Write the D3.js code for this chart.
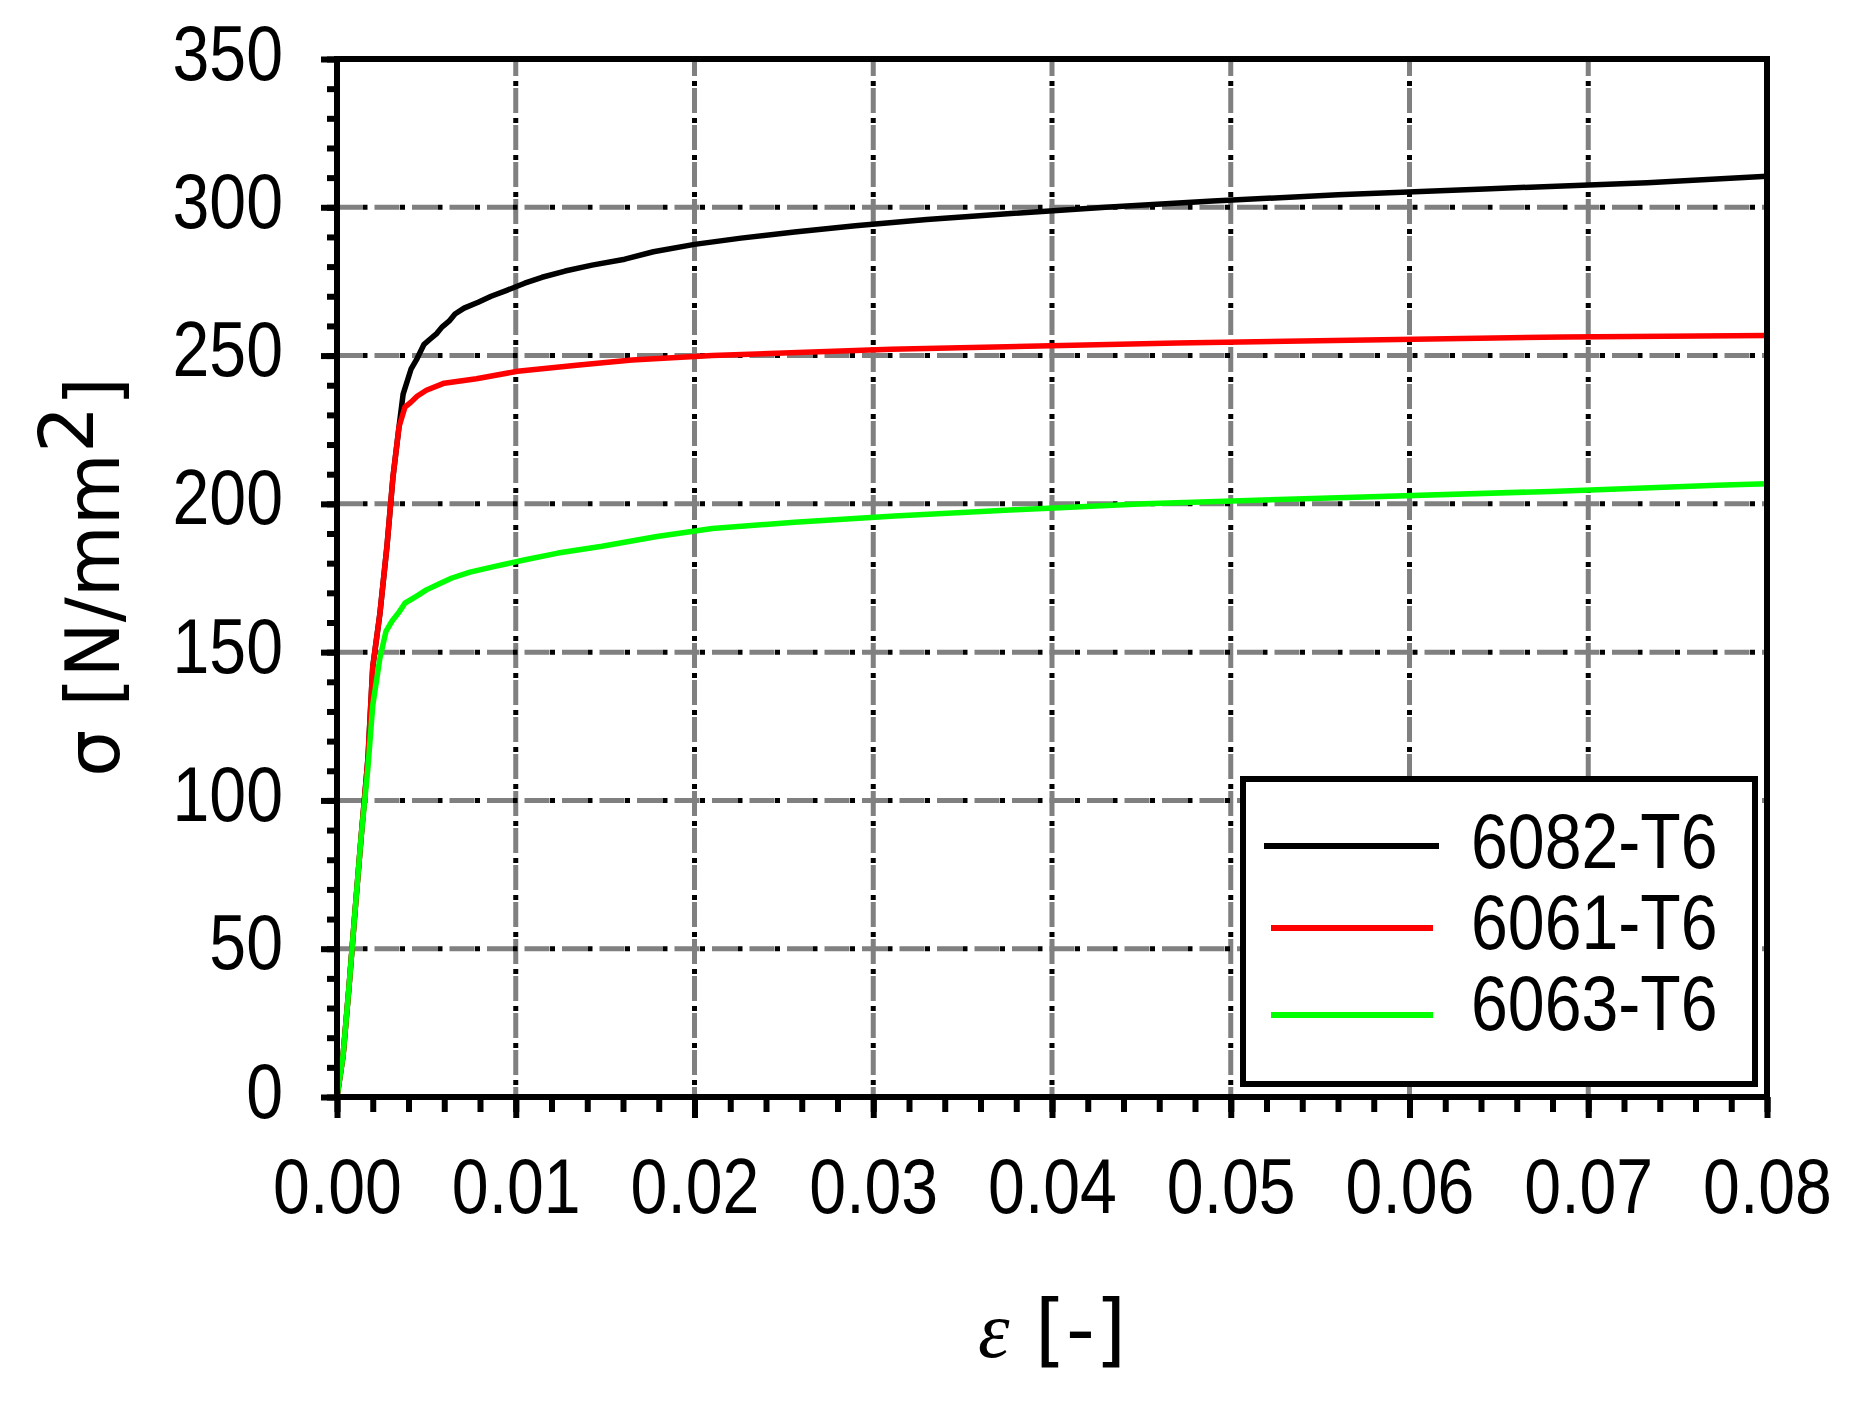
<!DOCTYPE html>
<meta charset="utf-8">
<script src="https://d3js.org/d3.v7.min.js"></script>
<style>
  body { margin: 0; background: #fff; }
  .tick text { font-family: "Liberation Sans", Arial, sans-serif; font-size: 77px; fill: #000; }
</style>
<div id="chart"></div>
<script>

// tick values
var xTicks = [0, 0.01, 0.02, 0.03, 0.04, 0.05, 0.06, 0.07, 0.08];
var yTicks = [0, 50, 100, 150, 200, 250, 300, 350];

// legend names
var alloys = ["6082-T6", "6061-T6", "6063-T6"];
var colors = ["#000000", "#ff0000", "#00ff00"];

// 6082-T6 (black)
var strain6082 = [0, 0.00034, 0.00067, 0.001, 0.00134, 0.00173, 0.002, 0.0024, 0.0028, 0.00313, 0.00347, 0.0037,
  0.00414, 0.00448, 0.00487, 0.0052, 0.00559, 0.00587, 0.00627, 0.0066, 0.00711, 0.0079, 0.00862, 0.0095,
  0.0105, 0.01147, 0.01276, 0.01427, 0.0161, 0.0177, 0.02, 0.0226, 0.0256, 0.029, 0.033, 0.0377, 0.043,
  0.049, 0.056, 0.0642, 0.0733, 0.08];
var stress6082 = [0, 14, 37, 62, 87, 114, 145, 163, 186, 209, 226, 237,
  245.4, 249, 253.8, 255.5, 257.5, 259.6, 261.6, 264, 266, 268, 270, 272,
  274.4, 276.4, 278.5, 280.5, 282.5, 285, 287.5, 289.6, 291.7, 293.8, 295.9, 297.9, 300,
  302.1, 304.2, 306.2, 308.3, 310.5];

// 6061-T6 (red)
var strain6061 = [0, 0.00034, 0.00067, 0.001, 0.00134, 0.00173, 0.002, 0.0024, 0.0028, 0.00313, 0.00347, 0.0038,
  0.00414, 0.00448, 0.005, 0.006, 0.0078, 0.0101, 0.0134, 0.0165, 0.021, 0.031, 0.047, 0.0686, 0.08];
var stress6061 = [0, 14, 37, 62, 87, 114, 145, 163, 186, 209, 226, 232.6,
  234.3, 236.3, 238.3, 240.7, 242.2, 244.7, 246.7, 248.5, 250, 252.1, 254.2, 256.3, 256.8];

// 6063-T6 (green)
var strain6063 = [0, 0.00034, 0.00067, 0.001, 0.00134, 0.00173, 0.002, 0.0024, 0.00274, 0.00308, 0.00347, 0.0038,
  0.00448, 0.005, 0.0057, 0.00643, 0.00744, 0.0089, 0.0104, 0.01236, 0.01483, 0.0179, 0.021, 0.0256,
  0.0312, 0.0379, 0.0452, 0.056, 0.0679, 0.0772, 0.08];
var stress6063 = [0, 14, 37, 62, 87, 111, 132, 148, 157, 160.5, 163.5, 166.5,
  169, 171, 173, 175, 177, 179, 181, 183.4, 185.7, 189, 191.7, 193.8,
  195.9, 198, 200, 202.1, 204.2, 206.3, 206.8];

var W = 1864, H = 1407;
var margin = {top: 59, right: 97, bottom: 310, left: 337};
var plotW = W - margin.left - margin.right,
    plotH = H - margin.top - margin.bottom;

// the labels in the picture use a narrow face, so squeeze Liberation Sans
var squeeze = 0.86;

var svg = d3.select("#chart")
  .append("svg")
    .attr("width", W)
    .attr("height", H);

var g = svg.append("g")
  .attr("transform", "translate(" + margin.left + "," + margin.top + ")");

var x = d3.scaleLinear().domain([0, 0.08]).range([0, plotW]);
var y = d3.scaleLinear().domain([0, 350]).range([plotH, 0]);

// grid: gray dashes with a black dot after each dash
var grid = g.append("g");
xTicks.slice(1, -1).forEach(function(t) {
  grid.append("line")
    .attr("x1", x(t)).attr("x2", x(t)).attr("y1", 0).attr("y2", plotH)
    .attr("stroke", "#808080").attr("stroke-width", 5)
    .attr("stroke-dasharray", "25 12").attr("stroke-dashoffset", 8);
  grid.append("line")
    .attr("x1", x(t)).attr("x2", x(t)).attr("y1", 0).attr("y2", plotH)
    .attr("stroke", "#000").attr("stroke-width", 5)
    .attr("stroke-dasharray", "5 32").attr("stroke-dashoffset", 15);
});
yTicks.slice(1, -1).forEach(function(t) {
  grid.append("line")
    .attr("x1", 0).attr("x2", plotW).attr("y1", y(t)).attr("y2", y(t))
    .attr("stroke", "#808080").attr("stroke-width", 5)
    .attr("stroke-dasharray", "25 12.5");
  grid.append("line")
    .attr("x1", 0).attr("x2", plotW).attr("y1", y(t)).attr("y2", y(t))
    .attr("stroke", "#000").attr("stroke-width", 5)
    .attr("stroke-dasharray", "5 32.5").attr("stroke-dashoffset", 12);
});

// curves
var series = [
  {name: alloys[0], color: colors[0], e: strain6082, s: stress6082},
  {name: alloys[1], color: colors[1], e: strain6061, s: stress6061},
  {name: alloys[2], color: colors[2], e: strain6063, s: stress6063}
];

var line = d3.line()
  .x(function(d) { return x(d[0]); })
  .y(function(d) { return y(d[1]); });

series.forEach(function(sr) {
  g.append("path")
    .datum(d3.zip(sr.e, sr.s))
    .attr("fill", "none")
    .attr("stroke", sr.color)
    .attr("stroke-width", 5.5)
    .attr("stroke-linejoin", "round")
    .attr("d", line);
});

// minor ticks
g.append("g")
  .attr("transform", "translate(0," + plotH + ")")
  .call(d3.axisBottom(x).tickValues(d3.range(0, 41).map(function(i) { return i * 0.002; }))
    .tickSize(15).tickSizeOuter(0).tickFormat(""))
  .call(function(a) { a.select(".domain").remove(); a.selectAll("line").attr("stroke-width", 6); });
g.append("g")
  .call(d3.axisLeft(y).tickValues(d3.range(0, 36).map(function(i) { return i * 10; }))
    .tickSize(10).tickSizeOuter(0).tickFormat(""))
  .call(function(a) { a.select(".domain").remove(); a.selectAll("line").attr("stroke-width", 6); });

// major ticks + labels
g.append("g")
  .attr("transform", "translate(0," + plotH + ")")
  .call(d3.axisBottom(x).tickValues(xTicks).tickSize(21).tickSizeOuter(0).tickPadding(40)
    .tickFormat(d3.format(".2f")))
  .call(function(a) {
    a.select(".domain").remove();
    a.selectAll("line").attr("stroke-width", 6);
    a.selectAll("text").attr("transform", "scale(" + squeeze + ",1)");
  });
g.append("g")
  .call(d3.axisLeft(y).tickValues(yTicks).tickSize(16).tickSizeOuter(0).tickPadding(38))
  .call(function(a) {
    a.select(".domain").remove();
    a.selectAll("line").attr("stroke-width", 6);
    a.selectAll("text")
      .attr("x", -54 / squeeze)
      .attr("dy", "20px")
      .attr("transform", "scale(" + squeeze + ",1)");
  });

// frame
g.append("rect")
  .attr("x", 0).attr("y", 0).attr("width", plotW).attr("height", plotH)
  .attr("fill", "none").attr("stroke", "#000").attr("stroke-width", 6);

// legend
var leg = g.append("g").attr("transform", "translate(" + (1243 - margin.left) + "," + (779 - margin.top) + ")");
leg.append("rect")
  .attr("width", 512).attr("height", 305)
  .attr("fill", "#fff").attr("stroke", "#000").attr("stroke-width", 6);
var rowY = [67, 149, 236];
series.forEach(function(sr, i) {
  leg.append("line")
    .attr("x1", i === 0 ? 21 : 28).attr("x2", i === 0 ? 196 : 190)
    .attr("y1", rowY[i]).attr("y2", rowY[i])
    .attr("stroke", sr.color).attr("stroke-width", 6);
  leg.append("text")
    .attr("transform", "translate(228," + [89, 170, 251][i] + ") scale(" + squeeze + ",1)")
    .style("font-family", '"Liberation Sans", Arial, sans-serif')
    .style("font-size", "77px")
    .text(sr.name);
});

// axis titles
var yt = svg.append("text")
  .attr("transform", "translate(119,577) rotate(-90)")
  .attr("text-anchor", "middle")
  .style("font-family", '"DejaVu Sans", sans-serif')
  .style("font-size", "74px");
yt.append("tspan").text("σ [N/mm");
yt.append("tspan").attr("dy", -26).text("2");
yt.append("tspan").attr("dy", 26).text("]");

var xt = svg.append("text")
  .attr("x", 1052).attr("y", 1357)
  .attr("text-anchor", "middle")
  .style("font-family", '"DejaVu Sans", sans-serif')
  .style("font-size", "80px");
xt.append("tspan").style("font-family", '"Liberation Serif", serif').style("font-style", "italic").text("ε");
xt.append("tspan").text(" [-]");

</script>
